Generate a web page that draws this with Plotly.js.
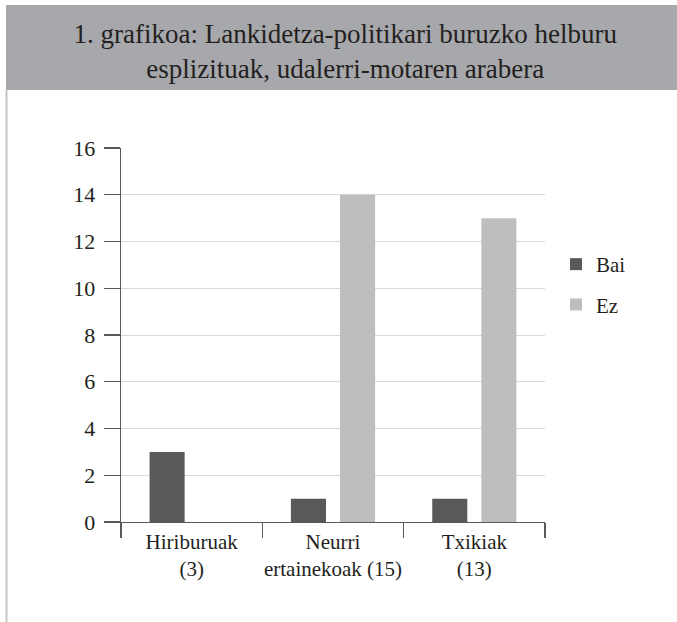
<!DOCTYPE html>
<html>
<head>
<meta charset="utf-8">
<script src="https://cdn.plot.ly/plotly-3.0.1.min.js"></script>
<style>
html,body{margin:0;padding:0;background:#fff;}
#chart{width:677px;height:622px;}
</style>
</head>
<body>
<div id="chart"></div>
<script>
const categories = ["Hiriburuak<br>(3)", "Neurri<br>ertainekoak (15)", "Txikiak<br>(13)"];
const seriesNames = ["Bai", "Ez"];
const baiValues = [3, 1, 1];
const ezValues = [0, 14, 13];
const yTicks = [0, 2, 4, 6, 8, 10, 12, 14, 16];
const chartTitle = "1. grafikoa: Lankidetza-politikari buruzko helburu<br>esplizituak, udalerri-motaren arabera";

const W = 677, H = 622;
const M = {l: 121, r: 132, t: 148, b: 100};
const pw = W - M.l - M.r, ph = H - M.t - M.b;
const px = v => (v - M.l) / pw;
const py = v => (H - M.b - v) / ph;

const FONT = "Liberation Serif";
const TXT = "#231f20";

const traces = [
  {type: "bar", name: seriesNames[0], x: categories, y: baiValues,
   marker: {color: "#58595b"}, legendgroup: "a"},
  {type: "bar", name: seriesNames[1], x: categories, y: ezValues,
   marker: {color: "#bcbec0"}, legendgroup: "b"}
];

const layout = {
  width: W, height: H,
  margin: M,
  paper_bgcolor: "#ffffff",
  plot_bgcolor: "#ffffff",
  font: {family: FONT, color: TXT, size: 21},
  barmode: "group",
  bargap: 0.305,
  bargroupgap: 0.286,
  title: {
    text: chartTitle,
    font: {family: FONT, size: 27, color: TXT},
    xref: "container", x: 0.51, xanchor: "center",
    yref: "container", y: 1 - 43 / H, yanchor: "middle"
  },
  xaxis: {
    type: "category",
    showline: true, linecolor: "#595959", linewidth: 1.3,
    ticks: "outside", tickson: "boundaries", ticklen: 15, tickcolor: "#595959", tickwidth: 1.3,
    tickangle: 0,
    showgrid: false,
    tickfont: {family: FONT, size: 21, color: TXT},
    fixedrange: true
  },
  yaxis: {
    range: [0, 16],
    tickvals: yTicks,
    showline: true, linecolor: "#595959", linewidth: 1.3,
    ticks: "outside", ticklen: 16, tickcolor: "#595959", tickwidth: 1.3,
    ticklabelstandoff: 4,
    showgrid: true, gridcolor: "#d9d9d9", gridwidth: 1,
    zeroline: false,
    tickfont: {family: FONT, size: 22, color: TXT},
    fixedrange: true
  },
  legend: {
    x: px(556), xanchor: "left",
    y: py(244), yanchor: "top",
    font: {family: FONT, size: 21, color: TXT},
    tracegroupgap: 10,
    bgcolor: "rgba(0,0,0,0)"
  },
  shapes: [
    {type: "rect", xref: "paper", yref: "paper",
     x0: px(6), x1: px(680), y0: py(90), y1: py(5),
     fillcolor: "#a7a8ab", line: {width: 0}, layer: "below"},
    {type: "line", xref: "paper", yref: "paper",
     x0: px(6.5), x1: px(6.5), y0: py(90), y1: py(625),
     line: {color: "#c6c6c6", width: 2}}
  ]
};

Plotly.newPlot("chart", traces, layout, {displayModeBar: false, staticPlot: true});
</script>
</body>
</html>
